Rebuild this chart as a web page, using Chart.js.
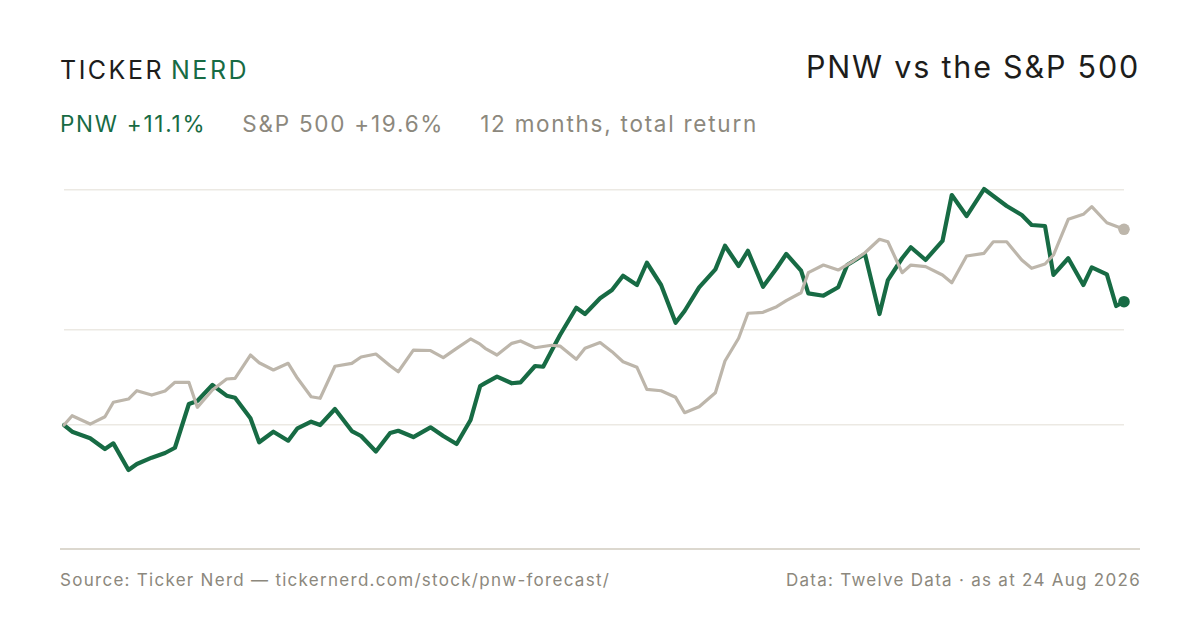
<!DOCTYPE html>
<html>
<head>
<meta charset="utf-8">
<script src="https://cdn.jsdelivr.net/npm/chart.js@4/dist/chart.umd.min.js"></script>
<style>
  html, body { margin: 0; padding: 0; background: #ffffff; }
  body { width: 1200px; height: 630px; position: relative; overflow: hidden; font-family: "Inter", "Liberation Sans", sans-serif; }
  .abs { position: absolute; white-space: nowrap; }
  #brand { left: 60px; top: 55px; font-size: 25px; letter-spacing: 2.5px; color: #1d1d1b; line-height: 30px; }
  #brand .g { color: #176b44; margin-left: 7px; }
  #title { right: 60px; top: 48px; font-size: 30.5px; letter-spacing: 1.8px; color: #1d1d1b; line-height: 38px; }
  #sub { left: 60px; top: 110px; font-size: 22.5px; letter-spacing: 1.75px; line-height: 28px; color: #8c887d; }
  #sub span { margin-right: 36px; }
  #sub .g { color: #176b44; }
  #base { left: 60px; top: 548px; width: 1080px; height: 1.5px; background: #dcd8cf; }
  #foot-l { left: 60px; top: 569px; font-size: 17px; color: #8c887d; line-height: 22px; letter-spacing: 1.28px; }
  #foot-r { right: 59px; top: 569px; font-size: 17px; color: #8c887d; line-height: 22px; letter-spacing: 1.28px; }
  #wrap { position: absolute; left: 54px; top: 160px; width: 1086px; height: 400px; }
</style>
</head>
<body>
<div id="brand" class="abs">TICKER<span class="g">NERD</span></div>
<div id="title" class="abs">PNW vs the S&amp;P 500</div>
<div id="sub" class="abs"><span class="g">PNW +11.1%</span><span>S&amp;P 500 +19.6%</span><span>12 months, total return</span></div>
<div id="wrap"><canvas id="c"></canvas></div>
<div id="base" class="abs"></div>
<div id="foot-l" class="abs">Source: Ticker Nerd — tickernerd.com/stock/pnw-forecast/</div>
<div id="foot-r" class="abs">Data: Twelve Data · as at 24 Aug 2026</div>
<script>
// Days since start of the 12-month window
const days = [0, 2.8, 9.0, 14.1, 17.0, 22.2, 25.1, 30.2, 34.8, 38.2, 43.0, 45.9, 51.1, 56.0, 58.9, 64.2, 67.2, 72.1, 77.2, 80.4, 85.1, 88.2, 93.3, 99.1, 102.3, 107.4, 112.3, 115.1, 120.3, 126.2, 130.6, 135.2, 140.0, 143.3, 145.0, 149.1, 154.2, 157.2, 162.2, 165.0, 167.9, 170.8, 176.4, 179.4, 184.6, 188.7, 192.5, 197.3, 200.7, 205.6, 210.6, 213.7, 218.7, 224.3, 227.6, 232.3, 235.5, 240.7, 245.4, 248.7, 253.8, 256.3, 261.5, 266.6, 269.7, 271.8, 275.8, 280.8, 283.7, 288.6, 291.6, 296.7, 302.5, 305.7, 310.8, 316.8, 320.0, 324.6, 329.8, 333.2, 337.8, 340.7, 345.8, 351.0, 353.9, 359.1, 362.3, 365.0];
// Cumulative return (%)
const pnw = [0, -0.70, -1.39, -2.51, -1.92, -4.71, -4.08, -3.42, -2.93, -2.38, 2.20, 2.51, 4.19, 3.07, 2.86, 0.70, -1.81, -0.70, -1.64, -0.35, 0.35, 0, 1.68, -0.63, -1.15, -2.77, -0.84, -0.60, -1.26, -0.24, -1.15, -1.99, 0.52, 4.08, 4.38, 5.06, 4.37, 4.47, 6.18, 6.10, 7.78, 9.42, 12.28, 11.62, 13.27, 14.14, 15.63, 14.66, 16.99, 14.66, 10.71, 11.94, 14.42, 16.30, 18.77, 16.65, 18.25, 14.48, 16.41, 17.91, 16.16, 13.79, 13.54, 14.42, 16.75, 17.14, 17.91, 11.62, 15.18, 17.46, 18.61, 17.28, 19.27, 24.08, 21.88, 24.71, 23.98, 22.93, 21.99, 20.94, 20.84, 15.71, 17.46, 14.66, 16.51, 15.78, 12.46, 12.91];
const spx = [0, 0.97, 0.10, 0.87, 2.38, 2.72, 3.59, 3.14, 3.56, 4.47, 4.47, 1.85, 3.66, 4.82, 4.89, 7.33, 6.52, 5.76, 6.46, 4.89, 2.96, 2.80, 6.15, 6.46, 7.12, 7.43, 6.20, 5.58, 7.85, 7.80, 7.05, 8.03, 9.01, 8.46, 8.03, 7.33, 8.55, 8.80, 8.09, 8.22, 8.35, 8.27, 6.88, 8.03, 8.64, 7.68, 6.63, 6.04, 3.74, 3.59, 2.90, 1.29, 1.92, 3.38, 6.70, 9.08, 11.70, 11.80, 12.39, 13.02, 13.85, 15.95, 16.75, 16.23, 16.80, 17.17, 18.04, 19.45, 19.19, 15.95, 16.75, 16.58, 15.71, 14.90, 17.70, 17.98, 19.19, 19.19, 17.28, 16.41, 16.86, 17.80, 21.54, 22.06, 22.86, 21.18, 20.82, 20.49];
// Horizontal guide values
const gridValues = [0, 10, 24.66];

const toPts = arr => arr.map((v, i) => ({ x: days[i], y: v }));
const lastIdx = days.length - 1;
const endRadius = days.map((d, i) => (i === lastIdx ? 5.8 : 0));

new Chart(document.getElementById('c'), {
  type: 'line',
  data: {
    datasets: [
      { label: 'S&P 500', data: toPts(spx), borderColor: '#bdb6ab', backgroundColor: '#bdb6ab',
        pointBackgroundColor: '#bdb6ab', pointBorderColor: '#bdb6ab', borderWidth: 3.2,
        pointRadius: endRadius, pointHoverRadius: endRadius, pointBorderWidth: 0,
        tension: 0, borderJoinStyle: 'round', borderCapStyle: 'round', clip: false },
      { label: 'PNW', data: toPts(pnw), borderColor: '#176b44', backgroundColor: '#176b44',
        pointBackgroundColor: '#176b44', pointBorderColor: '#176b44', borderWidth: 4.2,
        pointRadius: endRadius, pointHoverRadius: endRadius, pointBorderWidth: 0,
        tension: 0, borderJoinStyle: 'round', borderCapStyle: 'round', clip: false }
    ]
  },
  options: {
    responsive: true,
    maintainAspectRatio: false,
    animation: false,
    events: [],
    layout: { padding: { left: 10, right: 16, top: 26.25, bottom: 15.6 } },
    plugins: { legend: { display: false }, tooltip: { enabled: false } },
    scales: {
      x: { type: 'linear', min: 0, max: 365, display: false },
      y: {
        type: 'linear', min: -12.5, max: 25,
        afterBuildTicks: s => { s.ticks = gridValues.map(v => ({ value: v })); },
        ticks: { display: false },
        border: { display: false },
        grid: { color: '#ece9e3', lineWidth: 1.5, drawTicks: false }
      }
    }
  }
});
</script>
</body>
</html>
